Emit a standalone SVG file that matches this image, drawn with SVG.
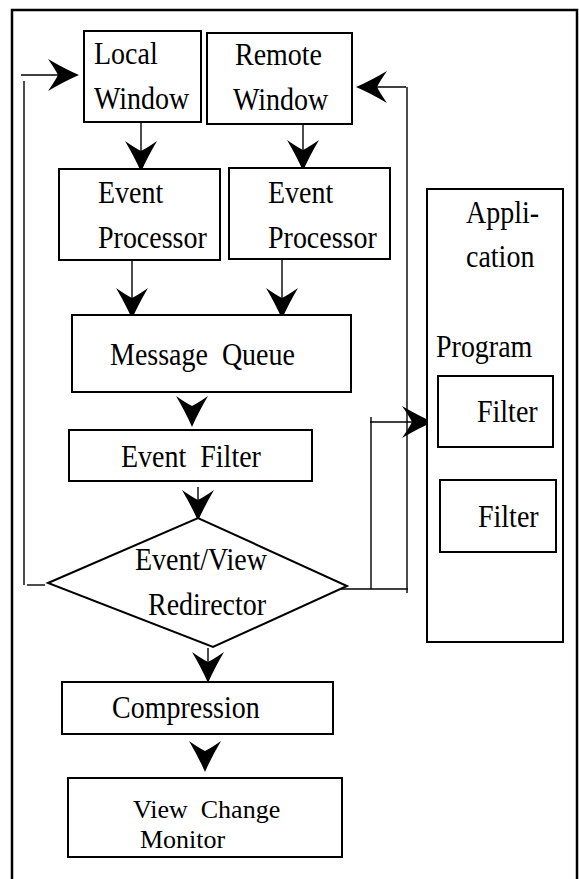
<svg xmlns="http://www.w3.org/2000/svg" width="579" height="879" viewBox="0 0 579 879">
<style>
.box{fill:#fff;stroke:#000;stroke-width:2}
.ln{fill:none;stroke:#000;stroke-width:1.4}
.t{font-family:'Liberation Serif','DejaVu Serif',serif;font-size:28px;fill:#000}
</style>
<defs>
<path id="ah" d="M0,0 Q-6,-14 -16,-31 Q-6,-24 0,-21 Q6,-24 16,-31 Q6,-14 0,0 Z" fill="#000"/>
</defs>
<rect x="0" y="0" width="579" height="879" fill="#fff"/>
<rect x="12" y="10" width="565" height="890" fill="none" stroke="#000" stroke-width="2.5"/>

<g id="connectors">
<line class="ln" x1="141" y1="122" x2="141" y2="160"/>
<use href="#ah" transform="translate(141,172)"/>
<line class="ln" x1="303" y1="124" x2="303" y2="160"/>
<use href="#ah" transform="translate(303,171)"/>
<line class="ln" x1="132" y1="260" x2="132" y2="305"/>
<use href="#ah" transform="translate(132,319)"/>
<line class="ln" x1="282" y1="259" x2="282" y2="305"/>
<use href="#ah" transform="translate(282,319)"/>
<use href="#ah" transform="translate(192,427)"/>
<line class="ln" x1="198" y1="487" x2="198" y2="505"/>
<use href="#ah" transform="translate(198,521)"/>
<line class="ln" x1="208" y1="648" x2="208" y2="670"/>
<use href="#ah" transform="translate(208,683)"/>
<use href="#ah" transform="translate(205,772)"/>
<polyline class="ln" points="24,81 24,585"/>
<line class="ln" x1="27" y1="585" x2="45" y2="585"/>
<line class="ln" x1="21" y1="75" x2="65" y2="75"/>
<use href="#ah" transform="translate(79,75) rotate(-90)"/>
<line class="ln" x1="337" y1="589" x2="408" y2="589"/>
<line class="ln" x1="407" y1="87" x2="407" y2="593"/>
<line class="ln" x1="372" y1="87" x2="406" y2="87"/>
<use href="#ah" transform="translate(356,87) rotate(90)"/>
<line class="ln" x1="371" y1="417" x2="371" y2="589"/>
<line class="ln" x1="370" y1="422" x2="420" y2="422"/>
<use href="#ah" transform="translate(433,422) rotate(-90)"/>
</g>

<g font-family="Liberation Serif, DejaVu Serif, serif">
<g id="local-window">
<rect class="box" x="84" y="31" width="117" height="91"/>
<text class="t" transform="translate(94,64) scale(1,1.15)">Local</text>
<text class="t" transform="translate(94,109) scale(1,1.15)">Window</text>
</g>
<g id="remote-window">
<rect class="box" x="207" y="33" width="145" height="91"/>
<text class="t" transform="translate(235,65) scale(1,1.15)">Remote</text>
<text class="t" transform="translate(233,110) scale(1,1.15)">Window</text>
</g>
<g id="event-processor-1">
<rect class="box" x="59" y="169" width="161" height="91"/>
<text class="t" transform="translate(98,203) scale(1,1.15)">Event</text>
<text class="t" transform="translate(98,248) scale(1,1.15)">Processor</text>
</g>
<g id="event-processor-2">
<rect class="box" x="229" y="168" width="161" height="91"/>
<text class="t" transform="translate(268,203) scale(1,1.15)">Event</text>
<text class="t" transform="translate(268,248) scale(1,1.15)">Processor</text>
</g>
<g id="message-queue">
<rect class="box" x="72" y="315" width="279" height="77"/>
<text class="t" transform="translate(110,365) scale(1,1.15)">Message&#160; Queue</text>
</g>
<g id="event-filter">
<rect class="box" x="69" y="430" width="243" height="51"/>
<text class="t" transform="translate(121,467) scale(1,1.15)">Event&#160; Filter</text>
</g>
<g id="redirector">
<polygon class="box" points="48,583 198,518 347,586 213,647"/>
<text class="t" transform="translate(135,570) scale(1,1.15)">Event/View</text>
<text class="t" transform="translate(148,615) scale(1,1.15)">Redirector</text>
</g>
<g id="compression">
<rect class="box" x="62" y="682" width="271" height="52"/>
<text class="t" transform="translate(112,718) scale(1,1.15)">Compression</text>
</g>
<g id="view-change-monitor">
<rect class="box" x="68" y="778" width="274" height="79"/>
<text class="t" x="133" y="818" style="font-size:26px">View&#160; Change</text>
<text class="t" x="140" y="848" style="font-size:26px">Monitor</text>
</g>
<g id="application-program">
<rect class="box" x="427" y="189" width="136" height="453"/>
<text class="t" transform="translate(466,223) scale(1,1.15)">Appli-</text>
<text class="t" transform="translate(466,267) scale(1,1.15)">cation</text>
<text class="t" transform="translate(436,357) scale(1,1.15)">Program</text>
</g>
<g id="filter-1">
<rect class="box" x="438" y="376" width="115" height="71"/>
<text class="t" transform="translate(477,422) scale(1,1.15)">Filter</text>
</g>
<g id="filter-2">
<rect class="box" x="440" y="480" width="116" height="72"/>
<text class="t" transform="translate(478,527) scale(1,1.15)">Filter</text>
</g>
</g>
</svg>
